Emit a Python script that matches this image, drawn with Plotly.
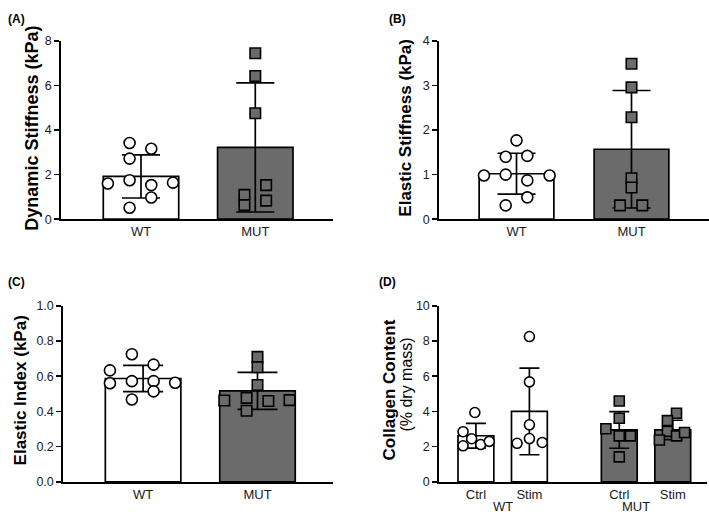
import plotly.graph_objects as go

# ---------------- data ----------------
# Panel A: Dynamic stiffness (kPa)
A_groups = ["WT", "MUT"]
A_means = [1.92, 3.22]
A_sd = [0.97, 2.90]
A_wt_vals = [3.42, 3.16, 2.72, 1.60, 1.75, 1.53, 1.64, 0.97, 0.51]
A_wt_jit = [-0.10, 0.09, -0.10, -0.29, -0.10, 0.09, 0.28, 0.09, -0.10]
A_mut_vals = [7.45, 6.43, 4.76, 1.09, 0.63, 1.53, 0.83]
A_mut_jit = [0.0, 0.0, 0.0, -0.095, -0.095, 0.095, 0.095]

# Panel B: Elastic stiffness (kPa)
B_groups = ["WT", "MUT"]
B_means = [1.02, 1.57]
B_sd = [0.46, 1.32]
B_wt_vals = [1.77, 1.40, 1.42, 0.98, 1.00, 0.98, 0.87, 0.49, 0.31]
B_wt_jit = [0.0, -0.094, 0.094, -0.283, -0.094, 0.288, 0.094, 0.094, -0.094]
B_mut_vals = [3.49, 2.96, 2.29, 0.92, 0.71, 0.31, 0.31]
B_mut_jit = [0.0, 0.0, 0.0, 0.0, 0.0, -0.10, 0.094]

# Panel C: Elastic index
C_groups = ["WT", "MUT"]
C_means = [0.587, 0.517]
C_sd = [0.075, 0.105]
C_wt_vals = [0.725, 0.633, 0.666, 0.560, 0.572, 0.572, 0.563, 0.514, 0.468]
C_wt_jit = [-0.098, -0.29, 0.092, -0.29, -0.098, 0.092, 0.28, 0.092, -0.098]
C_mut_vals = [0.710, 0.651, 0.550, 0.462, 0.477, 0.459, 0.464, 0.404]
C_mut_jit = [0.0, 0.0, 0.0, -0.29, -0.095, 0.095, 0.28, -0.095]

# Panel D: Collagen content (% dry mass)
D_ticks = ["Ctrl", "Stim", "Ctrl", "Stim"]
D_group_labels = ["WT", "MUT"]
D_means = [2.62, 4.00, 2.95, 2.95]
D_sd = [0.70, 2.46, 1.04, 0.55]
D_wt_ctrl_vals = [3.94, 2.85, 2.45, 2.05, 2.12, 2.30]
D_wt_ctrl_jit = [-0.02, -0.24, -0.08, -0.24, 0.09, 0.25]
D_wt_stim_vals = [8.25, 5.68, 3.24, 2.19, 2.46, 2.24]
D_wt_stim_jit = [0.0, 0.0, 0.0, -0.23, 0.0, 0.24]
D_mut_ctrl_vals = [4.59, 3.61, 3.02, 2.61, 2.61, 1.42]
D_mut_ctrl_jit = [0.0, 0.0, -0.25, 0.0, 0.21, 0.0]
D_mut_stim_vals = [3.90, 3.48, 2.87, 2.61, 2.80, 2.38]
D_mut_stim_jit = [0.07, -0.10, -0.10, 0.07, 0.22, -0.25]

# ---------------- styling ----------------
W, H = 709, 521
FONT = "Arial, Liberation Sans, Helvetica, sans-serif"
GREY = "#6b6b6b"
WHITE = "#ffffff"
BLACK = "#000000"
TICKCOL = "#1a1a1a"


def fx(px):
    return px / W


def fy(py):
    return 1 - py / H


fig = go.Figure()


def add_bars(axn, pos, means, sd, colors, width, capw):
    fig.add_trace(go.Bar(
        x=pos, y=means, width=width,
        marker=dict(color=colors, line=dict(color=BLACK, width=1.7)),
        error_y=dict(type="data", array=sd, visible=True, color=BLACK,
                     thickness=1.7, width=capw),
        xaxis="x" + axn, yaxis="y" + axn, hoverinfo="skip"))


def add_pts(axn, center, vals, jit, symbol, fill, size):
    fig.add_trace(go.Scatter(
        x=[center + j for j in jit], y=vals, mode="markers",
        marker=dict(symbol=symbol, size=size, color=fill,
                    line=dict(color=BLACK, width=1.6)),
        cliponaxis=False, xaxis="x" + axn, yaxis="y" + axn,
        hoverinfo="skip"))


# Panel A
add_bars("", [0, 1], A_means, A_sd, [WHITE, GREY], 0.66, 19)
add_pts("", 0, A_wt_vals, A_wt_jit, "circle", WHITE, 11)
add_pts("", 1, A_mut_vals, A_mut_jit, "square", GREY, 10.5)
# Panel B
add_bars("2", [0, 1], B_means, B_sd, [WHITE, GREY], 0.65, 19)
add_pts("2", 0, B_wt_vals, B_wt_jit, "circle", WHITE, 11)
add_pts("2", 1, B_mut_vals, B_mut_jit, "square", GREY, 10.5)
# Panel C
add_bars("3", [0, 1], C_means, C_sd, [WHITE, GREY], 0.66, 20)
add_pts("3", 0, C_wt_vals, C_wt_jit, "circle", WHITE, 11)
add_pts("3", 1, C_mut_vals, C_mut_jit, "square", GREY, 10.5)
# Panel D
D_pos = [0, 1, 2.68, 3.68]
add_bars("4", D_pos, D_means, D_sd, [WHITE, WHITE, GREY, GREY], 0.67, 10)
add_pts("4", D_pos[0], D_wt_ctrl_vals, D_wt_ctrl_jit, "circle", WHITE, 10)
add_pts("4", D_pos[1], D_wt_stim_vals, D_wt_stim_jit, "circle", WHITE, 10)
add_pts("4", D_pos[2], D_mut_ctrl_vals, D_mut_ctrl_jit, "square", GREY, 10)
add_pts("4", D_pos[3], D_mut_stim_vals, D_mut_stim_jit, "square", GREY, 10)


def xax(dom, rng, tickvals, ticktext, anchor):
    return dict(domain=dom, range=rng, tickvals=tickvals, ticktext=ticktext,
                showline=True, linecolor=BLACK, linewidth=1.7, ticks="",
                showgrid=False, zeroline=False, anchor=anchor,
                tickfont=dict(family=FONT, size=13, color=TICKCOL),
                fixedrange=True)


def yax(dom, rng, dtick, anchor, fmt=None):
    d = dict(domain=dom, range=rng, dtick=dtick, tick0=0,
             showline=True, linecolor=BLACK, linewidth=1.7,
             ticks="outside", ticklen=5, tickwidth=1.5, tickcolor=BLACK,
             showgrid=False, zeroline=False, anchor=anchor,
             tickfont=dict(family=FONT, size=12.5, color=TICKCOL),
             fixedrange=True)
    if fmt:
        d["tickformat"] = fmt
    return d


top_dom = [fy(218), fy(35)]
bot_dom = [fy(488), fy(307)]

fig.update_layout(
    width=W, height=H, margin=dict(l=0, r=0, t=0, b=0),
    paper_bgcolor="white", plot_bgcolor="white", showlegend=False,
    barmode="overlay",
    xaxis=xax([fx(61), fx(333)], [-0.70, 1.68], [0, 1], A_groups, "y"),
    yaxis=yax(top_dom, [0, 8], 2, "x"),
    xaxis2=xax([fx(439), fx(709)], [-0.674, 1.674], [0, 1], B_groups, "y2"),
    yaxis2=yax(top_dom, [0, 4], 1, "x2"),
    xaxis3=xax([fx(63), fx(333)], [-0.70, 1.66], [0, 1], C_groups, "y3"),
    yaxis3=yax(bot_dom, [0, 1], 0.2, "x3", ".1f"),
    xaxis4=xax([fx(439), fx(707)], [-0.69, 4.32], D_pos, D_ticks, "y4"),
    yaxis4=yax(bot_dom, [0, 10], 2, "x4"),
)

ann = []


def title(text, x, y, size, bold=True):
    ann.append(dict(text=("<b>%s</b>" % text) if bold else text,
                    x=fx(x), y=fy(y), xref="paper", yref="paper",
                    textangle=-90, showarrow=False, xanchor="center",
                    yanchor="middle",
                    font=dict(family=FONT, size=size, color=BLACK)))


def letter(text, x, y):
    ann.append(dict(text="<b>%s</b>" % text, x=fx(x), y=fy(y),
                    xref="paper", yref="paper", showarrow=False,
                    xanchor="left", yanchor="middle",
                    font=dict(family=FONT, size=12, color=BLACK)))


title("Dynamic Stiffness (kPa)", 32, 125, 18)
title("Elastic Stiffness (kPa)", 406, 124, 17)
title("Elastic Index (kPa)", 20, 394, 17)
title("Collagen Content", 389, 394, 17)
title("(% dry mass)", 407, 388, 16, bold=False)

letter("(A)", 6, 12)
letter("(B)", 387, 12)
letter("(C)", 6, 283)
letter("(D)", 377, 283)

for lab, xpos in zip(D_group_labels, [0.5, 3.0]):
    ann.append(dict(text=lab, x=xpos, y=fy(513), xref="x4", yref="paper",
                    showarrow=False, xanchor="center", yanchor="middle",
                    font=dict(family=FONT, size=13, color=TICKCOL)))

fig.update_layout(annotations=ann)
fig.write_html(
    "out.html",
    config={"displayModeBar": False, "staticPlot": True},
    post_script="document.body.style.margin='0';"
                "document.body.style.overflow='hidden';")
